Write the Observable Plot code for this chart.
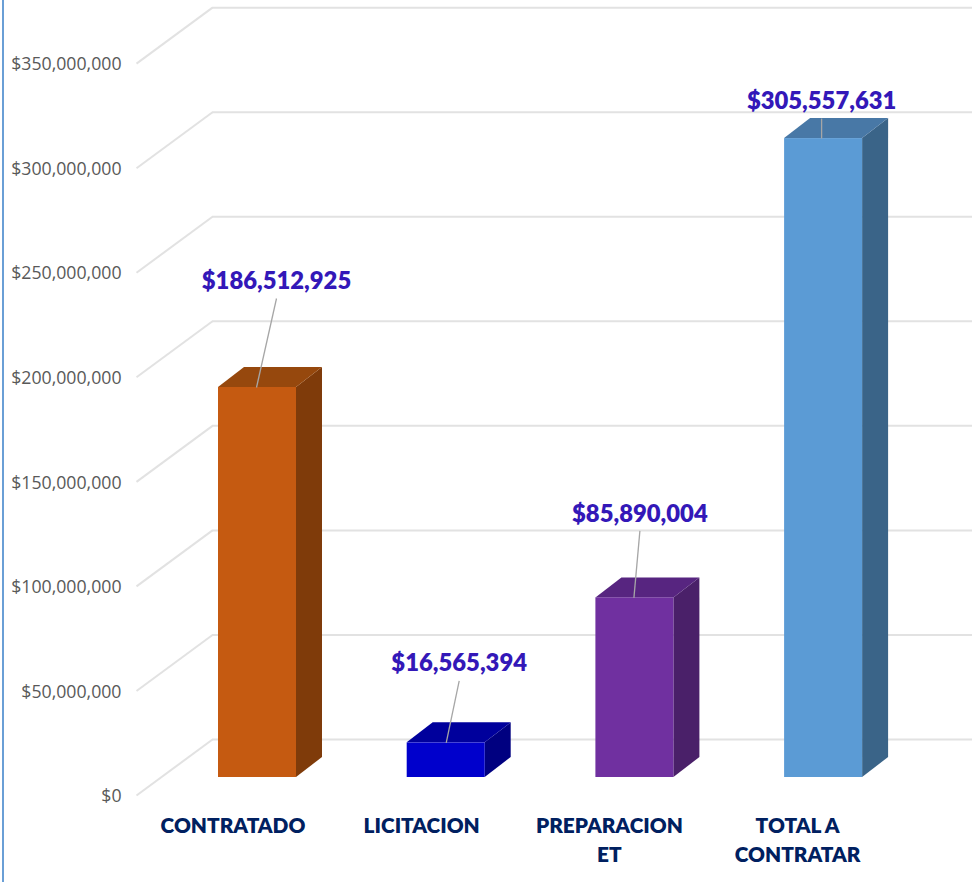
<!DOCTYPE html>
<html><head><meta charset="utf-8">
<script src="https://cdn.jsdelivr.net/npm/d3@7"></script>
<script src="https://cdn.jsdelivr.net/npm/@observablehq/plot@0.6"></script>
<style>html,body{margin:0;padding:0;background:#fff}
#wrap{position:relative;width:972px;height:882px;overflow:hidden}
#wrap:before{content:"";position:absolute;left:2px;top:0;width:2px;height:882px;background:#6a9fd6}
svg{display:block}</style></head><body><div id="wrap"></div>
<script>
const categories = ["CONTRATADO","LICITACION","PREPARACION\nET","TOTAL A\nCONTRATAR"];
const values = [186512925,16565394,85890004,305557631];
const frontColors = ["#C55A11","#0000CC","#7030A0","#5B9BD5"];
const sideColors = ["#7F3B0A","#000080","#4A2069","#3A6488"];
const topColors = ["#96480D","#00009C","#572580","#4878A6"];
const ticks = [0,50,100,150,200,250,300,350].map(d=>d*1e6);
const leaderDx = [19,13,5,-2];      // leader top, px from bar centre
const leaderUp = [89,62,67,20];     // leader top, px above bar top
const leaderDx0 = [-1,0,-1,-2];
const catDx = [-24.5,-24.5,-25.5,-26];

const W=972,H=882,pxX=188.7,pxY=2.091/1e6,base=777,c0=257;
const ux=p=>p/pxX, uy=p=>p/pxY;
const hw=ux(39), dX=ux(26), dY=uy(20);
const bars=values.map((v,i)=>({i,v,cat:categories[i]}));
const money=d=>"$"+d3.format(",")(d);

const grid=ticks.map(t=>({t,a:ux(136-c0),b:t-uy(18),c:ux(212-c0),d:t+uy(38)}));
const side=bars.flatMap(b=>[
 {i:b.i,x:b.i+hw,y1:0,y2:b.v},
 {i:b.i,x:b.i+hw+dX,y1:dY,y2:b.v+dY}]);
const top_=bars.flatMap(b=>[
 {i:b.i,y:b.v,x1:b.i-hw,x2:b.i+hw},
 {i:b.i,y:b.v+dY,x1:b.i-hw+dX,x2:b.i+hw+dX}]);

const plot=Plot.plot({
 width:W,height:H,margin:0,
 style:{background:"transparent",overflow:"visible"},
 x:{domain:[ux(0-c0),ux(W-c0)],range:[0,W],axis:null},
 y:{domain:[uy(base-H),uy(base)],range:[H,0],axis:null},
 marks:[
  Plot.link(grid,{x1:"a",y1:"b",x2:"c",y2:"d",stroke:"#e2e2e2",strokeWidth:2}),
  Plot.ruleY(grid,{y:"d",x1:"c",x2:()=>ux(W-c0),stroke:"#e2e2e2",strokeWidth:2}),
  Plot.text(ticks,{x:()=>ux(121-c0),y:d=>d-uy(19),text:money,textAnchor:"end",fontFamily:"Open Sans",fontSize:17.7,fill:"#595959"}),
  Plot.areaY(side,{x:"x",y1:"y1",y2:"y2",z:"i",fill:d=>sideColors[d.i]}),
  Plot.areaX(top_,{y:"y",x1:"x1",x2:"x2",z:"i",fill:d=>topColors[d.i]}),
  Plot.rect(bars,{x1:d=>d.i-hw,x2:d=>d.i+hw,y1:()=>0,y2:"v",fill:d=>frontColors[d.i]}),
  Plot.link(bars,{x1:d=>d.i+ux(leaderDx0[d.i]),y1:"v",x2:d=>d.i+ux(leaderDx[d.i]),y2:d=>d.v+uy(leaderUp[d.i]),stroke:"#a6a6a6",strokeWidth:1.3}),
  Plot.text(bars,{x:d=>d.i+ux(leaderDx[d.i]),y:d=>d.v+uy(leaderUp[d.i]+17),text:d=>money(d.v),fontFamily:"Lato",fontWeight:800,fontSize:23.8,fill:"#3318B8"}),
  Plot.text(bars,{x:d=>d.i+ux(catDx[d.i]),y:()=>-uy(34),text:"cat",lineAnchor:"top",lineHeight:1.43,fontFamily:"Lato",fontWeight:800,fontSize:20.8,fill:"#002060"})
 ]
});
document.getElementById("wrap").append(plot);
</script></body></html>
